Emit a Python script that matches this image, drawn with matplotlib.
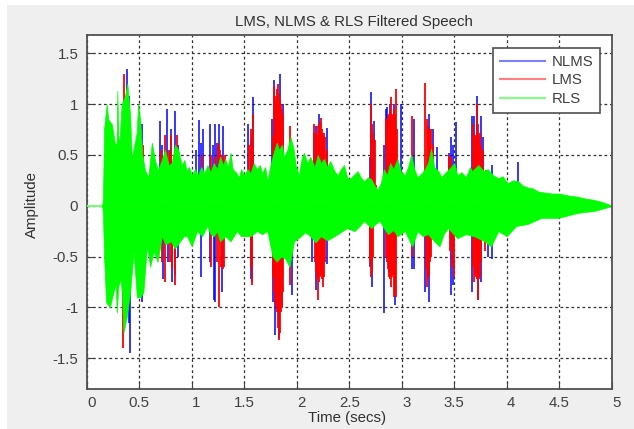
import matplotlib
matplotlib.use('Agg')
from matplotlib import pyplot as plt
from matplotlib.patches import Rectangle
from matplotlib.transforms import ScaledTranslation

plt.rcParams['font.family'] = ['Liberation Sans', 'DejaVu Sans']

x_ticks = [0, 0.5, 1, 1.5, 2, 2.5, 3, 3.5, 4, 4.5, 5]
x_labels = ['0', '0.5', '1', '1.5', '2', '2.5', '3', '3.5', '4', '4.5', '5']
y_ticks = [-1.5, -1, -0.5, 0, 0.5, 1, 1.5]
y_labels = ['-1.5', '-1', '-0.5', '0', '0.5', '1', '1.5']

# RLS envelope, top side
t_rls_up = [0, 0.14, 0.15, 0.155, 0.165, 0.19, 0.206, 0.24, 0.27, 0.285, 0.292, 0.30, 0.31, 0.333, 0.365, 0.387, 0.413,
            0.43, 0.444, 0.476, 0.49, 0.508, 0.53, 0.555, 0.587, 0.62, 0.65, 0.68, 0.714, 0.746, 0.78, 0.81, 0.84,
            0.873, 0.905, 0.93, 0.95, 0.975, 1.00, 1.03, 1.06, 1.09, 1.12, 1.15, 1.18, 1.21, 1.24, 1.27, 1.30, 1.32,
            1.345, 1.37, 1.39, 1.42, 1.45, 1.47, 1.50, 1.53, 1.56, 1.59, 1.62, 1.65, 1.67, 1.70, 1.72, 1.75, 1.78,
            1.81, 1.83, 1.86, 1.88, 1.91, 1.94, 1.97, 1.99, 2.02, 2.05, 2.07, 2.10, 2.13, 2.17, 2.20, 2.23, 2.26,
            2.29, 2.32, 2.36, 2.39, 2.42, 2.45, 2.48, 2.50, 2.54, 2.58, 2.61, 2.64, 2.68, 2.71, 2.74, 2.77, 2.80,
            2.83, 2.86, 2.89, 2.92, 2.96, 2.99, 3.03, 3.06, 3.09, 3.12, 3.15, 3.19, 3.22, 3.25, 3.28, 3.31, 3.35,
            3.38, 3.41, 3.45, 3.50, 3.53, 3.57, 3.61, 3.65, 3.67, 3.69, 3.73, 3.78, 3.82, 3.87, 3.92, 3.96, 4.01,
            4.06, 4.11, 4.15, 4.20, 4.25, 4.30, 4.36, 4.43, 4.50, 4.59, 4.67, 4.75, 4.82, 4.90, 4.98]
rls_up = [0, 0, 0.02, 0.10, 0.75, 1.00, 0.85, 0.80, 0.60, 0.62, 1.13, 0.70, 0.60, 1.00, 1.08, 1.20, 0.90,
          0.45, 0.55, 0.72, 1.00, 0.85, 0.50, 0.35, 0.28, 0.62, 0.45, 0.35, 0.45, 0.55, 0.40, 0.42, 0.60,
          0.55, 0.40, 0.45, 0.35, 0.38, 0.30, 0.36, 0.30, 0.38, 0.32, 0.40, 0.33, 0.42, 0.36, 0.48, 0.40, 0.46,
          0.38, 0.52, 0.36, 0.33, 0.28, 0.36, 0.30, 0.36, 0.32, 0.42, 0.36, 0.40, 0.32, 0.38, 0.24, 0.40, 0.52,
          0.62, 0.55, 0.60, 0.48, 0.55, 0.68, 0.56, 0.40, 0.30, 0.48, 0.52, 0.42, 0.48, 0.38, 0.50, 0.42, 0.46,
          0.38, 0.44, 0.34, 0.30, 0.36, 0.40, 0.28, 0.26, 0.30, 0.34, 0.28, 0.24, 0.28, 0.26, 0.20, 0.16, 0.22,
          0.36, 0.30, 0.42, 0.36, 0.46, 0.34, 0.30, 0.38, 0.50, 0.36, 0.28, 0.32, 0.36, 0.42, 0.56, 0.38, 0.34,
          0.28, 0.32, 0.36, 0.42, 0.30, 0.33, 0.28, 0.38, 0.34, 0.36, 0.40, 0.34, 0.36, 0.30, 0.27, 0.29, 0.22,
          0.25, 0.24, 0.20, 0.18, 0.17, 0.14, 0.13, 0.12, 0.12, 0.10, 0.09, 0.07, 0.06, 0.04, 0.01]

# RLS envelope, bottom side
t_rls_low = [0, 0.14, 0.15, 0.155, 0.165, 0.185, 0.22, 0.255, 0.275, 0.287, 0.30, 0.32, 0.335, 0.35, 0.38, 0.414, 0.446,
             0.478, 0.51, 0.54, 0.573, 0.605, 0.637, 0.675, 0.716, 0.75, 0.80, 0.84, 0.89, 0.925, 0.955, 1.00, 1.05,
             1.10, 1.146, 1.18, 1.21, 1.24, 1.27, 1.32, 1.37, 1.43, 1.47, 1.50, 1.56, 1.62, 1.67, 1.72, 1.77, 1.81,
             1.85, 1.89, 1.93, 1.975, 2.04, 2.08, 2.13, 2.18, 2.23, 2.29, 2.36, 2.42, 2.48, 2.55, 2.60, 2.64, 2.71,
             2.75, 2.79, 2.83, 2.87, 2.92, 2.96, 3.03, 3.10, 3.15, 3.20, 3.25, 3.30, 3.36, 3.40, 3.44, 3.53, 3.61,
             3.69, 3.79, 3.85, 3.92, 4.00, 4.09, 4.20, 4.33, 4.49, 4.68, 4.84, 4.98]
rls_low = [0, 0, -0.02, -0.10, -0.50, -0.95, -1.00, -0.85, -0.78, -1.05, -0.80, -0.72, -0.85, -1.25, -1.10, -0.85, -0.45,
           -0.90, -0.90, -0.85, -0.40, -0.60, -0.45, -0.55, -0.30, -0.38, -0.35, -0.42, -0.35, -0.30, -0.30, -0.40,
           -0.25, -0.30, -0.20, -0.28, -0.30, -0.25, -0.35, -0.30, -0.35, -0.25, -0.30, -0.30, -0.30, -0.25, -0.28,
           -0.25, -0.50, -0.55, -0.50, -0.52, -0.60, -0.35, -0.30, -0.26, -0.30, -0.36, -0.30, -0.34, -0.30, -0.26,
           -0.22, -0.25, -0.20, -0.15, -0.22, -0.18, -0.15, -0.22, -0.28, -0.24, -0.30, -0.25, -0.40, -0.25, -0.30,
           -0.28, -0.34, -0.40, -0.28, -0.22, -0.32, -0.28, -0.30, -0.35, -0.40, -0.25, -0.30, -0.20, -0.18, -0.12,
           -0.12, -0.07, -0.05, -0.01]

# NLMS peaks
t_nlms_up = [0.38, 0.40, 0.525, 0.70, 0.715, 0.764, 0.79, 0.80, 0.84, 0.866, 1.04, 1.073, 1.09, 1.105, 1.17, 1.20, 1.22,
             1.24, 1.26, 1.296, 1.54, 1.56, 1.58, 1.76, 1.78, 1.80, 1.84, 1.87, 2.16, 2.18, 2.21, 2.25, 2.29, 2.70,
             2.71, 2.74, 2.83, 2.85, 2.86, 2.89, 2.93, 2.99, 3.12, 3.26, 3.30, 3.34, 3.45, 3.47, 3.49, 3.515, 3.67,
             3.685, 3.72, 3.76, 3.775, 3.86, 4.11]
nlms_up = [1.34, 1.08, 0.80, 0.83, 0.60, 0.95, 0.55, 0.75, 0.93, 0.60, 0.55, 0.84, 0.62, 0.75, 0.80, 0.60, 0.80,
           0.62, 0.80, 0.78, 0.80, 0.65, 1.07, 0.85, 1.24, 1.02, 1.30, 1.00, 0.72, 0.78, 0.90, 0.72, 0.76, 0.48,
           1.12, 0.83, 0.60, 0.95, 0.97, 1.00, 1.00, 1.00, 0.85, 0.90, 0.75, 0.58, 0.52, 0.68, 0.60, 0.82, 0.88,
           0.88, 1.08, 0.88, 0.68, 0.40, 0.43]
t_nlms_low = [0.40, 0.414, 0.525, 0.73, 0.77, 0.81, 0.84, 0.87, 1.09, 1.17, 1.21, 1.22, 1.285, 1.56, 1.575, 1.77, 1.79,
              1.83, 1.86, 1.96, 2.15, 2.18, 2.24, 2.29, 2.70, 2.72, 2.83, 2.88, 2.94, 3.10, 3.12, 3.22, 3.26, 3.47,
              3.485, 3.67, 3.73, 3.76, 3.82, 3.86]
nlms_low = [-1.15, -1.45, -0.95, -0.72, -0.55, -0.75, -0.68, -0.50, -0.70, -0.55, -0.93, -0.95, -0.85, -0.72, -0.75,
            -0.95, -1.27, -1.30, -1.00, -0.88, -0.55, -0.83, -0.65, -0.57, -0.60, -0.80, -1.06, -0.65, -0.98, -0.62,
            -0.62, -0.85, -0.95, -0.88, -0.78, -0.85, -0.93, -0.75, -0.50, -0.52]

# LMS peaks, dense inside the louder bursts
t_lms_up = [0.357, 0.535, 0.71, 0.72, 0.735, 0.75, 0.77, 0.79, 0.805, 0.83, 0.86, 1.10, 1.18, 1.22, 1.25, 1.26, 1.27,
            1.28, 1.30, 1.32, 1.55, 1.56, 1.57, 1.585, 1.77, 1.78, 1.79, 1.80, 1.81, 1.82, 1.83, 1.84, 1.85, 1.86,
            1.87, 1.94, 2.165, 2.18, 2.19, 2.20, 2.21, 2.22, 2.23, 2.24, 2.25, 2.26, 2.27, 2.29, 2.71, 2.72, 2.73,
            2.745, 2.76, 2.85, 2.86, 2.87, 2.88, 2.89, 2.90, 2.91, 2.92, 2.93, 2.94, 2.95, 2.96, 3.095, 3.225, 3.24,
            3.25, 3.26, 3.27, 3.28, 3.30, 3.455, 3.47, 3.68, 3.69, 3.70, 3.71, 3.72, 3.73, 3.74, 3.75, 3.76, 3.77,
            3.80]
lms_up = [1.30, 0.60, 0.55, 0.50, 0.48, 0.70, 0.55, 0.52, 0.70, 0.50, 0.70, 0.50, 0.50, 0.48, 0.60, 0.62, 0.55,
          0.50, 0.48, 0.50, 0.60, 0.75, 0.70, 0.90, 0.70, 1.18, 1.05, 1.08, 1.15, 1.20, 1.10, 1.05, 1.00, 0.95,
          0.90, 0.78, 0.80, 0.72, 0.70, 0.78, 0.80, 0.82, 0.86, 0.75, 0.70, 0.72, 0.68, 0.55, 1.00, 0.80, 0.72,
          0.65, 0.20, 0.85, 0.80, 0.88, 0.90, 0.92, 1.07, 0.90, 0.88, 0.95, 0.90, 1.15, 0.75, 0.88, 1.21, 0.85,
          0.78, 0.72, 0.75, 0.75, 0.60, 0.50, 0.48, 0.80, 0.72, 0.70, 0.68, 1.00, 0.80, 0.70, 0.72, 0.60, 0.55,
          0.35]
t_lms_low = [0.345, 0.53, 0.72, 0.75, 0.79, 0.81, 0.84, 1.18, 1.24, 1.26, 1.28, 1.30, 1.31, 1.56, 1.575, 1.77, 1.78,
             1.79, 1.80, 1.81, 1.82, 1.83, 1.84, 1.85, 1.86, 1.87, 1.94, 2.17, 2.18, 2.19, 2.20, 2.21, 2.22, 2.23,
             2.24, 2.25, 2.26, 2.27, 2.70, 2.71, 2.72, 2.73, 2.85, 2.86, 2.87, 2.88, 2.89, 2.90, 2.91, 2.92, 2.93,
             2.94, 2.95, 3.10, 3.23, 3.24, 3.25, 3.26, 3.27, 3.28, 3.46, 3.48, 3.50, 3.68, 3.69, 3.70, 3.71, 3.72,
             3.73, 3.74, 3.75, 3.76, 3.79]
lms_low = [-1.40, -0.65, -0.55, -0.75, -0.55, -0.62, -0.78, -0.60, -0.55, -1.00, -0.60, -0.62, -0.60, -0.60, -0.78,
           -0.70, -0.85, -0.95, -1.00, -1.05, -1.20, -1.32, -1.25, -1.05, -1.00, -0.85, -0.78, -0.55, -0.65, -0.72,
           -0.93, -0.75, -0.70, -0.68, -0.72, -0.80, -0.70, -0.55, -0.55, -0.70, -0.65, -0.50, -0.50, -0.55, -0.62,
           -0.70, -0.72, -0.80, -0.70, -0.68, -0.90, -0.85, -0.90, -0.50, -0.62, -0.80, -0.72, -0.68, -0.55, -0.50,
           -0.45, -0.60, -0.70, -0.60, -0.75, -0.68, -0.70, -0.72, -0.93, -0.72, -0.70, -0.55, -0.45]

fig = plt.figure(figsize=(6.34, 4.29), dpi=100, facecolor='white')
# the grey window starts a few pixels in from the left and top edges
fig.patches.append(Rectangle((7 / 634, 0), 627 / 634, 424 / 429, transform=fig.transFigure,
                             facecolor='#efefef', edgecolor='none', figure=fig, zorder=-1))
ax = fig.add_axes([86.7 / 634, 1 - 388.7 / 429, 525 / 634, 354 / 429])
ax.set_xlim(0, 5)
ax.set_ylim(-1.8, 1.682)

# blue first, then red, green goes over both
ax.vlines(t_nlms_up, 0, nlms_up, colors='#0000ff', linewidth=1.1, zorder=3)
ax.vlines(t_nlms_low, 0, nlms_low, colors='#0000ff', linewidth=1.1, zorder=3)
ax.vlines(t_lms_up, 0, lms_up, colors='#ff0000', linewidth=1.3, zorder=4)
ax.vlines(t_lms_low, 0, lms_low, colors='#ff0000', linewidth=1.3, zorder=4)
ax.fill_between(t_rls_up, 0, rls_up, color='#00ff00', linewidth=0.5, zorder=5)
ax.fill_between(t_rls_low, 0, rls_low, color='#00ff00', linewidth=0.5, zorder=5)
ax.plot([0, 0.14], [0, 0], color='#80ff80', linewidth=1.2, zorder=5)

# empty lines, only there for the legend
ax.plot([], [], color='#8080ff', linewidth=1.5, label='NLMS')
ax.plot([], [], color='#ff8080', linewidth=1.5, label='LMS')
ax.plot([], [], color='#80ff80', linewidth=1.5, label='RLS')

ax.set_xticks(x_ticks)
ax.set_xticklabels(x_labels)
ax.set_yticks(y_ticks)
ax.set_yticklabels(y_labels)
ax.tick_params(direction='in', length=5, width=0.8, color='#404040', labelcolor='#404040', labelsize=10.8)
ax.tick_params(axis='x', pad=5)
ax.tick_params(axis='y', pad=6)
ax.grid(True, color='#303030', linestyle=(0, (2.2, 2.2)), linewidth=0.9, zorder=1)
ax.set_axisbelow(True)
for side in ax.spines.values():
    side.set_color('#505050')
    side.set_linewidth(1.3)

# whole numbers sit a bit right of their ticks in the reference
nudge = ScaledTranslation(4.5 / 100, 0, fig.dpi_scale_trans)
for lbl in ax.get_xticklabels():
    if len(lbl.get_text()) == 1:
        lbl.set_transform(lbl.get_transform() + nudge)

ax.set_title('LMS, NLMS & RLS Filtered Speech', fontsize=10.8, color='#303030', x=(354 - 86.7) / 525, y=1.0, pad=6)
ax.set_xlabel('Time (secs)', fontsize=10.8, color='#303030')
ax.xaxis.set_label_coords((347.5 - 86.7) / 525, -0.063)
ax.set_ylabel('Amplitude', fontsize=10.8, color='#303030')
ax.yaxis.set_label_coords((39 - 86.7) / 525, 0.52)

leg = ax.legend(loc='upper right', bbox_to_anchor=((600 - 86.7) / 525, 1 - 13.5 / 354), borderaxespad=0,
                fancybox=False, framealpha=1, edgecolor='#505050', fontsize=10.8, labelspacing=0.3,
                handlelength=3.0, handletextpad=0.45, borderpad=0.45, labelcolor='#404040')
leg.get_frame().set_linewidth(1.2)
leg.set_zorder(10)

fig.savefig('out.png', dpi=100, facecolor=fig.get_facecolor())
